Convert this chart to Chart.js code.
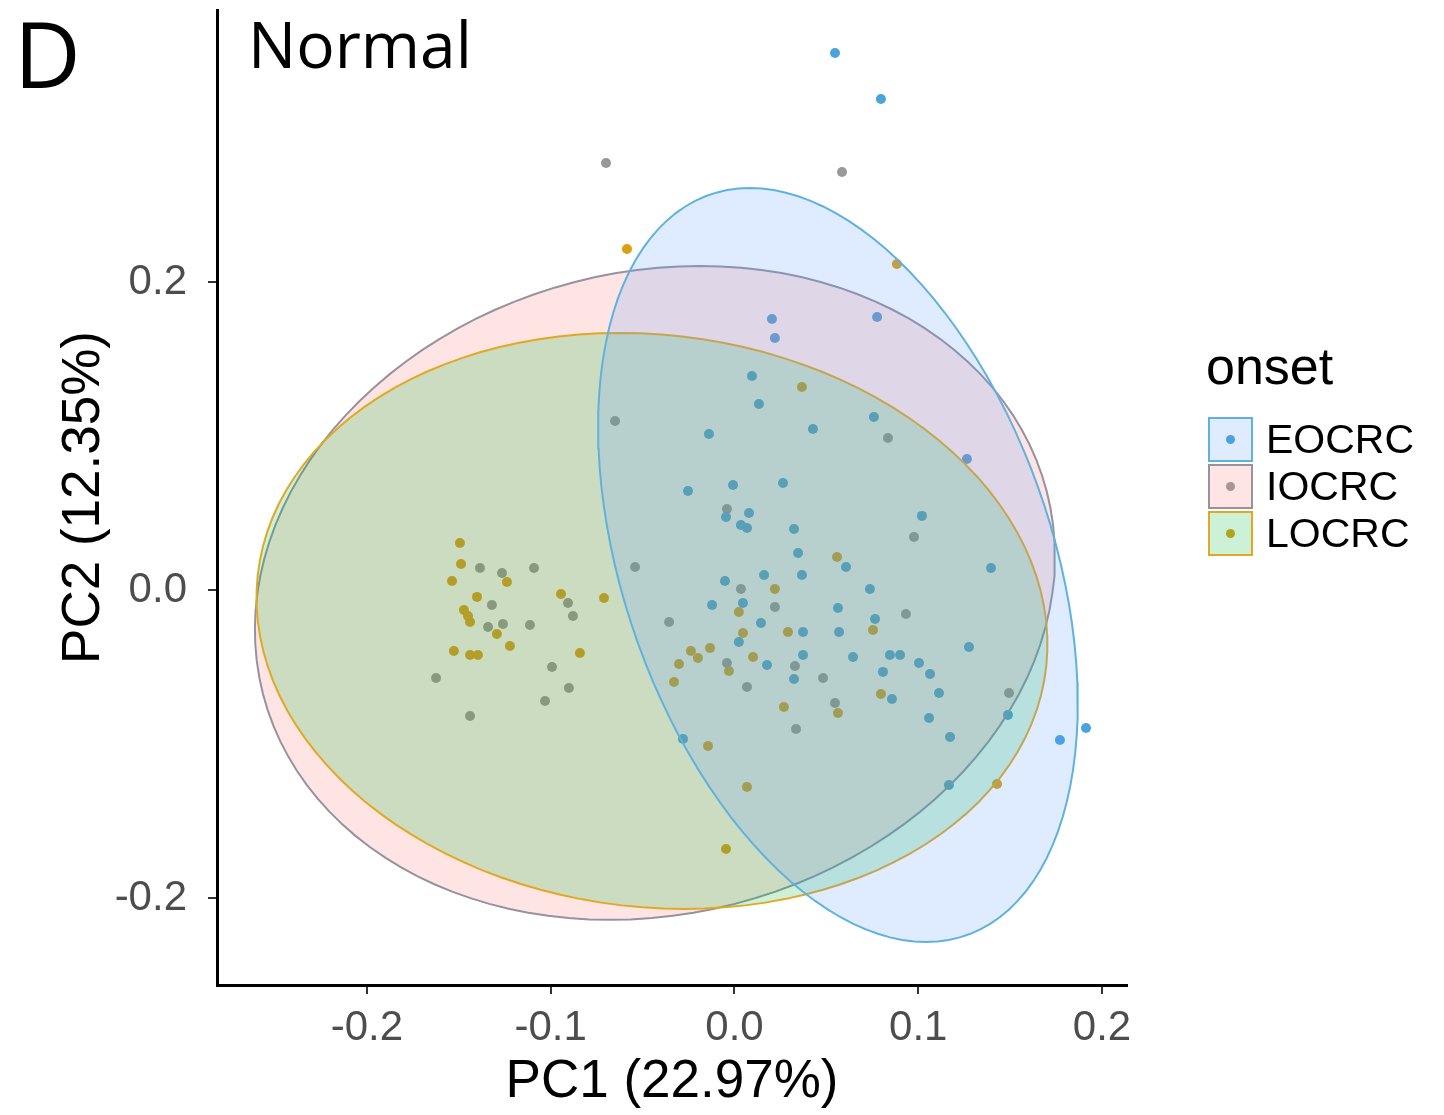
<!DOCTYPE html>
<html>
<head>
<meta charset="utf-8">
<script src="https://cdn.jsdelivr.net/npm/chart.js@4.4.0/dist/chart.umd.min.js"></script>
<style>
  html, body { margin: 0; padding: 0; background: #fff; }
  #wrap { width: 1444px; height: 1115px; position: relative; }
</style>
</head>
<body>
<div id="wrap"><canvas id="pcaNormal"></canvas></div>
<script>
var groups = ['EOCRC', 'IOCRC', 'LOCRC'];

var eocrcX = [0.0547, 0.0797, 0.0204, 0.022, 0.0776, 0.0095, 0.0133, 0.0427, -0.0139, 0.0759,
  0.1265, -0.0253, -0.0008, 0.0264, -0.0046, 0.0079, 0.0035, 0.0068, 0.0324, 0.0346,
  0.102, 0.0367, 0.0161, -0.0052, 0.0607, 0.1396, 0.0737, 0.0563, 0.0046, -0.0122,
  0.0765, 0.0144, 0.0373, 0.0569, 0.0024, 0.1276, 0.0373, 0.0645, 0.0846, 0.0901,
  0.1004, 0.0177, 0.0324, 0.1064, 0.0808, 0.1113, 0.0857, 0.1059, 0.1488, 0.1173,
  0.1771, 0.1913, 0.1167, -0.028];
var eocrcY = [0.3487, 0.3188, 0.176, 0.1636, 0.1773, 0.139, 0.1208, 0.1045, 0.1013, 0.1123,
  0.0851, 0.0643, 0.0682, 0.0695, 0.0474, 0.05, 0.0422, 0.0403, 0.0396, 0.024,
  0.0481, 0.0097, 0.0097, 0.0058, 0.0149, 0.0143, 0.0006, -0.0117, -0.0084, -0.0097,
  -0.0188, -0.0214, -0.0273, -0.0273, -0.0338, -0.037, -0.0422, -0.0435, -0.0422, -0.0422,
  -0.0474, -0.0487, -0.0578, -0.0545, -0.0532, -0.0669, -0.0708, -0.0831, -0.0812, -0.0955,
  -0.0974, -0.0896, -0.1266, -0.0968];

var iocrcX = [-0.0699, 0.0585, -0.065, 0.0835, 0.0977, -0.0041, 0.0035, 0.022, -0.0356, -0.0541,
  -0.1091, -0.0906, -0.0879, -0.1113, -0.0993, -0.0901, -0.1031, -0.1385, -0.1265, -0.132,
  -0.1341, -0.126, -0.1624, -0.1439, 0.0933, -0.0041, 0.0329, 0.0482, 0.0068, 0.0335,
  0.0547, 0.1494];
var iocrcY = [0.2773, 0.2714, 0.1097, 0.0987, 0.0344, 0.0526, 0.0006, -0.011, -0.0208, 0.0149,
  0.0143, -0.0084, -0.0169, -0.0227, -0.05, -0.0636, -0.0721, 0.0143, 0.011, -0.0097,
  -0.024, -0.0221, -0.0571, -0.0818, -0.0156, -0.0474, -0.0494, -0.0571, -0.063, -0.0903,
  -0.0734, -0.0669];

var locrcX = [-0.0585, 0.0884, 0.0367, 0.0558, 0.022, 0.0024, 0.0291, 0.0046, -0.0237, -0.0133,
  -0.0199, 0.0101, -0.0944, -0.071, -0.0841, -0.1494, -0.1488, -0.1537, -0.1238, -0.1401,
  -0.1472, -0.145, -0.1439, -0.1293, -0.1222, -0.1527, -0.1439, -0.1396, 0.0754, 0.0797,
  0.0563, -0.0302, -0.0329, -0.003, 0.0269, -0.0144, 0.0068, -0.0046, 0.1429];
var locrcY = [0.2214, 0.2117, 0.1318, 0.0214, 0.0006, -0.0143, -0.0273, -0.0279, -0.0396, -0.0377,
  -0.0442, -0.0435, -0.0026, -0.0052, -0.0409, 0.0305, 0.0169, 0.0058, 0.0052, -0.0045,
  -0.013, -0.0169, -0.0208, -0.0286, -0.0364, -0.0396, -0.0422, -0.0422, -0.026, -0.0675,
  -0.0799, -0.0481, -0.0597, -0.0526, -0.076, -0.1013, -0.1279, -0.1682, -0.126];

var xTicks = [-0.2, -0.1, 0.0, 0.1, 0.2];
var yTicks = [-0.2, 0.0, 0.2];

// confidence ellipses: centre and two conjugate half-axes, in PC units
var ellipseCentre = [[0.0563, 0.0162], [-0.0433, -0.0019], [-0.0449, -0.0201]];
var ellipseAxisA = [[-0.0479, 0.2448], [0.0245, 0.2123], [-0.0174, 0.187]];
var ellipseAxisB = [[0.1214, 0], [0.2163, 0], [0.2145, 0]];

var pointColours = ['rgb(74,163,218)', 'rgb(153,153,153)', 'rgb(218,160,20)'];
var lineColours = ['rgb(95,178,222)', 'rgb(150,146,160)', 'rgb(226,168,36)'];
var fillColours = ['rgba(97,156,255,0.2)', 'rgba(248,118,109,0.2)', 'rgba(0,186,56,0.2)'];

function toPoints(xs, ys) {
    return xs.map(function (x, i) { return {x: x, y: ys[i]}; });
}

function ellipseOutline(i) {
    var c = ellipseCentre[i], a = ellipseAxisA[i], b = ellipseAxisB[i];
    var pts = [];
    for (var k = 0; k <= 120; k++) {
        var t = 2 * Math.PI * k / 120;
        pts.push({
            x: c[0] + a[0] * Math.cos(t) + b[0] * Math.sin(t),
            y: c[1] + a[1] * Math.cos(t) + b[1] * Math.sin(t)
        });
    }
    return pts;
}

var pointSets = [toPoints(eocrcX, eocrcY), toPoints(iocrcX, iocrcY), toPoints(locrcX, locrcY)];
var ellipseOrder = [1, 3, 2];

var datasets = [];
groups.forEach(function (g, i) {
    datasets.push({
        label: g,
        data: pointSets[i],
        backgroundColor: pointColours[i],
        borderWidth: 0,
        pointRadius: 5,
        order: 10 + i
    });
});
groups.forEach(function (g, i) {
    datasets.push({
        type: 'line',
        label: g + ' ellipse',
        data: ellipseOutline(i),
        borderColor: lineColours[i],
        backgroundColor: fillColours[i],
        borderWidth: 2,
        pointRadius: 0,
        tension: 0,
        fill: 'shape',
        order: ellipseOrder[i]
    });
});

// "D", "Normal" and the onset legend
var annotations = {
    id: 'annotations',
    afterDraw: function (chart) {
        var ctx = chart.ctx;
        ctx.save();
        ctx.fillStyle = '#000';
        ctx.textAlign = 'left';
        ctx.textBaseline = 'alphabetic';
        ctx.font = '92px "Open Sans"';
        ctx.fillText('D', 14, 88);
        ctx.font = '64px "Open Sans"';
        ctx.fillText('Normal', 248, 68);

        ctx.font = '52px "Liberation Sans"';
        ctx.fillText('onset', 1206, 384);
        var boxX = 1209, boxSize = 43, tops = [418, 465, 512];
        groups.forEach(function (g, i) {
            var cy = tops[i] + boxSize / 2;
            ctx.beginPath();
            ctx.arc(boxX + boxSize / 2, cy, 4.5, 0, 2 * Math.PI);
            ctx.fillStyle = pointColours[i];
            ctx.fill();
            ctx.fillStyle = fillColours[i];
            ctx.fillRect(boxX, tops[i], boxSize, boxSize);
            ctx.strokeStyle = lineColours[i];
            ctx.lineWidth = 2;
            ctx.strokeRect(boxX, tops[i], boxSize, boxSize);
            ctx.fillStyle = '#000';
            ctx.font = '41px "Liberation Sans"';
            ctx.textBaseline = 'middle';
            ctx.fillText(g, 1266, cy + 2);
            ctx.textBaseline = 'alphabetic';
        });
        ctx.restore();
    }
};

var ctx = document.getElementById('pcaNormal').getContext('2d');
var pcaNormal = new Chart(ctx, {
    type: 'scatter',
    data: { datasets: datasets },
    options: {
        responsive: true,
        maintainAspectRatio: false,
        animation: false,
        layout: {
            padding: { left: 0, right: 317, top: 10, bottom: 0 }
        },
        scales: {
            x: {
                type: 'linear',
                min: -0.2816,
                max: 0.2136,
                afterBuildTicks: function (scale) {
                    scale.ticks = xTicks.map(function (v) { return {value: v}; });
                },
                afterFit: function (scale) {
                    scale.height = 130;
                    scale.paddingLeft = 0;
                    scale.paddingRight = 0;
                },
                grid: {
                    drawOnChartArea: false,
                    drawTicks: true,
                    tickLength: 9,
                    color: '#333',
                    lineWidth: 2
                },
                border: { display: true, color: '#000', width: 3 },
                ticks: {
                    padding: 9,
                    color: '#4d4d4d',
                    font: { family: '"Liberation Sans"', size: 42 },
                    callback: function (v) { return v.toFixed(1); }
                },
                title: {
                    display: true,
                    text: 'PC1 (22.97%)',
                    color: '#000',
                    font: { family: '"Liberation Sans"', size: 53 },
                    padding: { top: 0, bottom: 1 }
                }
            },
            y: {
                type: 'linear',
                min: -0.2565,
                max: 0.3766,
                afterBuildTicks: function (scale) {
                    scale.ticks = yTicks.map(function (v) { return {value: v}; });
                },
                afterFit: function (scale) {
                    scale.width = 217;
                    scale.paddingTop = 0;
                    scale.paddingBottom = 0;
                },
                grid: {
                    drawOnChartArea: false,
                    drawTicks: true,
                    tickLength: 9,
                    color: '#333',
                    lineWidth: 2
                },
                border: { display: true, color: '#000', width: 3 },
                ticks: {
                    padding: 21,
                    color: '#4d4d4d',
                    font: { family: '"Liberation Sans"', size: 42 },
                    callback: function (v) { return v.toFixed(1); }
                },
                title: {
                    display: true,
                    text: 'PC2 (12.35%)',
                    color: '#000',
                    font: { family: '"Liberation Sans"', size: 53 },
                    padding: { top: 53, bottom: 0 }
                }
            }
        },
        plugins: {
            legend: { display: false },
            tooltip: { enabled: false }
        }
    },
    plugins: [annotations]
});
</script>
</body>
</html>
